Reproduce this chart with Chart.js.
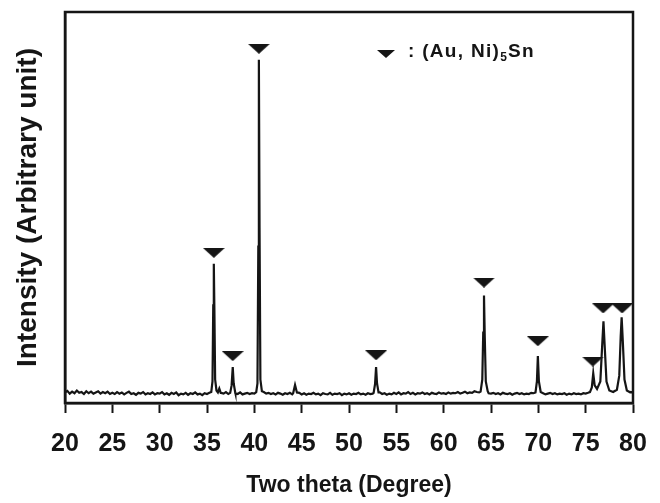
<!DOCTYPE html>
<html>
<head>
<meta charset="utf-8">
<script src="https://cdn.jsdelivr.net/npm/chart.js@4.4.1/dist/chart.umd.min.js"></script>
<style>
  body { margin: 0; background: #fff; }
</style>
</head>
<body>
<canvas id="xrd" width="660" height="503"></canvas>
<script>
// background noise, 20 -> 80 deg every 0.25 deg
var baseStart = 20, baseStep = 0.25;
var baseline = [
  2.7,3.1,2.4,2.9,2.5,3.2,2.6,2.8,2.3,3.0,2.5,2.9,2.4,2.7,3.0,2.4,2.8,2.5,2.9,2.3,
  2.6,2.3,2.8,2.4,2.7,2.2,2.6,2.9,2.3,2.5,2.1,2.6,2.4,2.8,2.2,2.5,2.3,2.7,2.2,2.5,
  2.4,2.8,2.2,2.5,2.1,2.6,2.3,2.7,2.0,2.4,2.2,2.6,2.1,2.5,2.3,2.7,2.2,2.4,2.0,2.5,
  2.3,2.6,2.2,2.5,2.8,3.0,2.6,2.4,2.8,2.3,2.6,2.2,2.5,2.3,2.7,2.2,2.4,2.6,2.3,2.5,
  2.4,2.7,2.5,2.9,2.8,2.4,2.6,2.3,2.5,2.2,2.6,2.4,2.1,2.5,2.3,2.6,2.2,2.4,2.3,2.6,
  2.2,2.5,2.1,2.4,2.3,2.6,2.2,2.4,2.0,2.5,2.3,2.2,2.6,2.1,2.4,2.3,2.5,2.0,2.4,2.2,
  2.5,2.1,2.4,2.3,2.6,2.2,2.4,2.1,2.5,2.3,2.4,2.6,2.2,2.7,2.3,2.5,2.1,2.4,2.2,2.6,
  2.3,2.7,2.2,2.5,2.4,2.8,2.3,2.6,2.2,2.5,2.4,2.7,2.3,2.5,2.2,2.6,2.4,2.3,2.7,2.4,
  2.5,2.3,2.7,2.4,2.6,2.5,2.8,2.4,2.6,2.9,2.5,2.7,2.6,3.0,2.8,2.7,2.5,2.6,2.3,2.5,
  2.4,2.6,2.3,2.5,2.2,2.6,2.4,2.3,2.5,2.1,2.4,2.6,2.3,2.5,2.2,2.4,2.3,2.6,2.5,2.8,
  2.6,2.4,2.5,2.2,2.4,2.6,2.3,2.5,2.2,2.4,2.3,2.5,2.1,2.4,2.2,2.5,2.3,2.4,2.2,2.5,
  2.4,2.6,2.5,2.8,3.2,3.0,3.3,3.1,3.6,3.4,3.2,3.5,3.3,3.0,2.8,2.6,2.9,2.7,2.5,2.8,
  2.7
];

// peak profiles [2theta, intensity]
var peak357 = [[35.45,2.8],[35.58,5.5],[35.66,25],[35.72,35.6],[35.78,24],[35.86,6],[36.0,3.2],[36.15,2.7],[36.3,3.7],[36.45,2.6]];
var peak377 = [[37.45,2.6],[37.6,4.5],[37.72,9.2],[37.82,5],[37.98,2.7]];
var peak405 = [[40.2,2.8],[40.33,5],[40.42,40],[40.48,87.8],[40.55,45],[40.64,6],[40.8,3]];
var peak443 = [[44.1,2.5],[44.3,4.6],[44.5,2.7]];
var peak529 = [[52.6,2.6],[52.75,4.8],[52.86,9.2],[52.96,5],[53.12,2.7]];
var peak643 = [[63.9,2.9],[64.08,6],[64.18,18],[64.26,27.5],[64.34,17],[64.45,5.5],[64.65,3.0]];
var peak700 = [[69.7,2.7],[69.85,5.5],[69.95,12.0],[70.06,5.5],[70.25,2.8]];
var peak758 = [[75.45,2.8],[75.65,4.0],[75.8,7.6],[75.95,4.5],[76.2,3.6],[76.55,5.5],[76.75,15],[76.88,20.9],[77.0,15],[77.2,5.5],[77.5,3.2],[77.9,2.8],[78.3,3.4],[78.55,7],[78.7,17],[78.8,21.9],[78.92,16],[79.1,6],[79.35,3.2],[79.7,2.7]];
var peaks = [peak357, peak377, peak405, peak443, peak529, peak643, peak700, peak758];

// (Au, Ni)5Sn marks
var markX = [35.72, 37.72, 40.48, 52.86, 64.26, 69.95, 75.75, 76.85, 78.85];
var markY = [38.4, 12.0, 90.6, 12.2, 30.8, 15.8, 10.6, 24.2, 24.2];

var xTicks = [20, 25, 30, 35, 40, 45, 50, 55, 60, 65, 70, 75, 80];

// build the pattern: noise outside the peak windows + peak points
var pattern = [];
for (var i = 0; i < baseline.length; i++) {
  var x = baseStart + i * baseStep;
  var inPeak = false;
  for (var p = 0; p < peaks.length; p++) {
    var pk = peaks[p];
    if (x >= pk[0][0] && x <= pk[pk.length - 1][0]) inPeak = true;
  }
  if (!inPeak) pattern.push({x: x, y: baseline[i]});
}
peaks.forEach(function(pk) {
  pk.forEach(function(pt) { pattern.push({x: pt[0], y: pt[1]}); });
});
pattern.sort(function(a, b) { return a.x - b.x; });

var marks = markX.map(function(x, i) { return {x: x, y: markY[i]}; });

function triangle(w, h) {
  var c = document.createElement("canvas");
  c.width = w; c.height = h;
  var t = c.getContext("2d");
  t.fillStyle = "#151515";
  t.beginPath();
  t.moveTo(0, 0);
  t.lineTo(w, 0);
  t.lineTo(w / 2, h);
  t.closePath();
  t.fill();
  return c;
}
var markImg = triangle(22, 10);

var ink = "#151515";
var fontFam = "'Liberation Sans', Arial, sans-serif";

// frame round the plot + phase label
var framePlugin = {
  id: "frame",
  afterDraw: function(chart) {
    var ctx = chart.ctx, a = chart.chartArea;
    ctx.save();
    ctx.strokeStyle = ink;
    ctx.lineWidth = 2.5;
    ctx.strokeRect(a.left, a.top, a.right - a.left, a.bottom - a.top);

    ctx.drawImage(triangle(18, 8), 377, 50);
    ctx.fillStyle = ink;
    ctx.textBaseline = "alphabetic";
    ctx.font = "bold 19px " + fontFam;
    ctx.letterSpacing = "1.3px";
    var tx = 408, ty = 57;
    ctx.fillText(": (Au, Ni)", tx, ty);
    tx += ctx.measureText(": (Au, Ni)").width;
    ctx.font = "bold 12px " + fontFam;
    ctx.fillText("5", tx, ty + 4);
    tx += ctx.measureText("5").width;
    ctx.font = "bold 19px " + fontFam;
    ctx.fillText("Sn", tx, ty);
    ctx.restore();
  }
};

var ctx = document.getElementById("xrd").getContext("2d");
new Chart(ctx, {
  type: "scatter",
  data: {
    datasets: [{
      data: pattern,
      showLine: true,
      borderColor: ink,
      borderWidth: 2.2,
      pointRadius: 0,
      tension: 0
    }, {
      data: marks,
      pointStyle: markImg,
      pointRadius: 11,
      showLine: false
    }]
  },
  options: {
    responsive: false,
    animation: false,
    layout: { padding: { top: 10, right: 27, left: 0, bottom: 0 } },
    plugins: {
      legend: { display: false },
      tooltip: { enabled: false }
    },
    scales: {
      x: {
        type: "linear",
        min: 20,
        max: 80,
        afterFit: function(s) {
          s.height = 100;
          s.paddingLeft = 0;
          s.paddingRight = 0;
        },
        afterBuildTicks: function(s) { s.ticks = xTicks.map(function(v) { return {value: v}; }); },
        border: { display: true, color: ink, width: 2.5 },
        grid: { drawOnChartArea: false, drawTicks: true, tickLength: 10, tickWidth: 2, tickColor: ink },
        ticks: {
          color: ink,
          padding: 16,
          maxRotation: 0,
          autoSkip: false,
          font: { family: fontFam, size: 25, weight: "bold" }
        },
        title: {
          display: true,
          text: "Two theta (Degree)",
          color: ink,
          padding: { top: 0, bottom: 4 },
          font: { family: fontFam, size: 23, weight: "bold" }
        }
      },
      y: {
        min: 0,
        max: 100,
        afterFit: function(s) { s.width = 65; },
        border: { display: true, color: ink, width: 2.5 },
        grid: { display: false },
        ticks: { display: false },
        title: {
          display: true,
          text: "Intensity (Arbitrary unit)",
          color: ink,
          padding: { top: 11, bottom: 0 },
          font: { family: fontFam, size: 28, weight: "bold" }
        }
      }
    }
  },
  plugins: [framePlugin]
});
</script>
</body>
</html>
